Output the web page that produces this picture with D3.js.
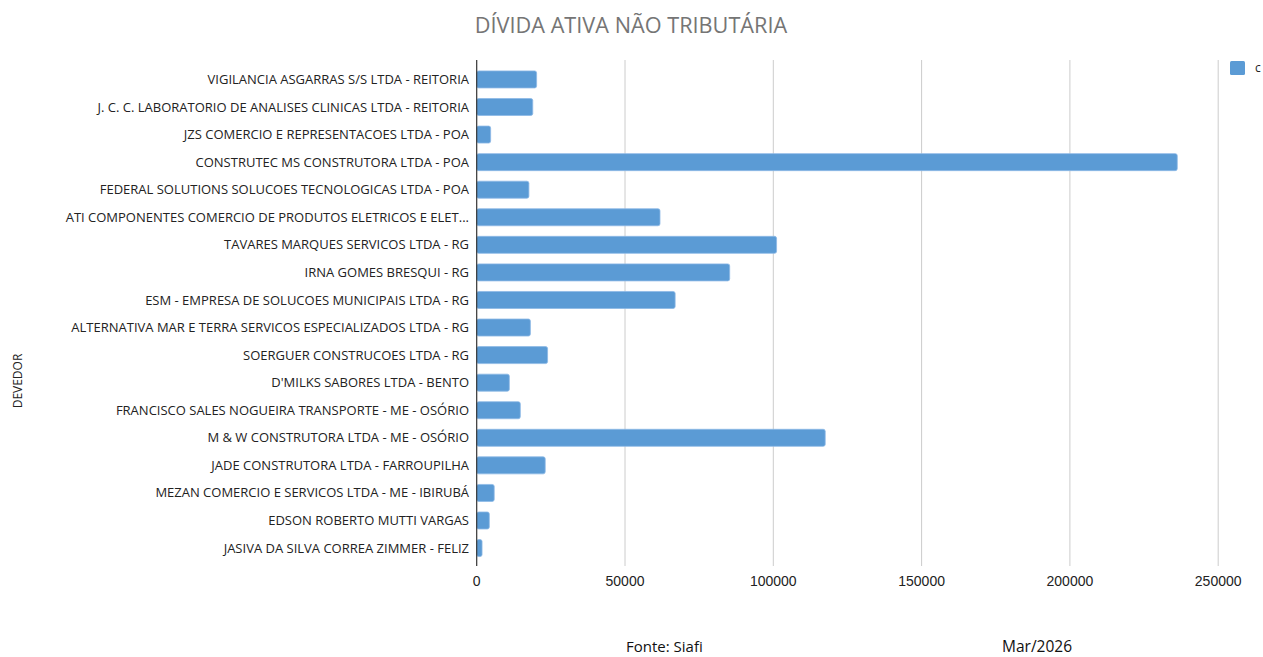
<!DOCTYPE html>
<html>
<head>
<meta charset="utf-8">
<script src="https://cdn.jsdelivr.net/npm/d3@7"></script>
<style>
  body { margin: 0; background: #fff; }
  svg { display: block; }
</style>
</head>
<body>
<svg id="chart"></svg>
<script>
var devedores = [
  "VIGILANCIA ASGARRAS S/S LTDA - REITORIA",
  "J. C. C. LABORATORIO DE ANALISES CLINICAS LTDA - REITORIA",
  "JZS COMERCIO E REPRESENTACOES LTDA - POA",
  "CONSTRUTEC MS CONSTRUTORA LTDA - POA",
  "FEDERAL SOLUTIONS SOLUCOES TECNOLOGICAS LTDA - POA",
  "ATI COMPONENTES COMERCIO DE PRODUTOS ELETRICOS E ELET...",
  "TAVARES MARQUES SERVICOS LTDA - RG",
  "IRNA GOMES BRESQUI - RG",
  "ESM - EMPRESA DE SOLUCOES MUNICIPAIS LTDA - RG",
  "ALTERNATIVA MAR E TERRA SERVICOS ESPECIALIZADOS LTDA - RG",
  "SOERGUER CONSTRUCOES LTDA - RG",
  "D'MILKS SABORES LTDA - BENTO",
  "FRANCISCO SALES NOGUEIRA TRANSPORTE - ME - OSÓRIO",
  "M & W CONSTRUTORA LTDA - ME - OSÓRIO",
  "JADE CONSTRUTORA LTDA - FARROUPILHA",
  "MEZAN COMERCIO E SERVICOS LTDA - ME - IBIRUBÁ",
  "EDSON ROBERTO MUTTI VARGAS",
  "JASIVA DA SILVA CORREA ZIMMER - FELIZ"
]

var valores = [20200, 18900, 4700, 236200, 17600, 61800, 101100, 85300, 66900,
               18100, 23900, 11000, 14700, 117500, 23100, 5900, 4250, 1800]

var ticks = [0, 50000, 100000, 150000, 200000, 250000]

var width = 1263, height = 657

var svg = d3.select("#chart")
            .attr("width", width)
            .attr("height", height)

var x = d3.scaleLinear()
    .domain([0, 250000])
    .range([476.7, 1218.2])

var y = d3.scaleBand()
    .domain(devedores)
    .range([65.7, 561.8])
    .paddingInner(0.383)
    .paddingOuter(0.19)

// gridlines
svg.selectAll(".grid")
   .data(ticks.slice(1)).enter()
   .append("line")
   .attr("x1", d => x(d))
   .attr("x2", d => x(d))
   .attr("y1", 60)
   .attr("y2", 566)
   .style("stroke", "#cccccc")
   .style("stroke-width", "1px")

// bars
svg.selectAll(".bar")
   .data(valores).enter()
   .append("rect")
   .attr("x", x(0))
   .attr("y", (d, i) => y(devedores[i]))
   .attr("width", d => x(d) - x(0))
   .attr("height", y.bandwidth())
   .attr("rx", 2)
   .attr("fill", "#5b9bd5")
   .style("stroke", "#8db9e6")
   .style("stroke-width", "0.8px")

// baseline axis
svg.append("line")
   .attr("x1", x(0)).attr("x2", x(0))
   .attr("y1", 60).attr("y2", 566)
   .style("stroke", "#333")
   .style("stroke-width", "1.2px")

// category labels
svg.selectAll(".lbl")
   .data(devedores).enter()
   .append("text")
   .attr("x", 469)
   .attr("y", d => y(d) + y.bandwidth() / 2)
   .attr("dy", "0.35em")
   .attr("text-anchor", "end")
   .style("font-family", "'Open Sans', sans-serif")
   .style("font-size", "13px")
   .style("fill", "#222")
   .text(d => d)

// tick labels
svg.selectAll(".tick")
   .data(ticks).enter()
   .append("text")
   .attr("x", d => x(d))
   .attr("y", 586)
   .attr("text-anchor", "middle")
   .style("font-family", "'Liberation Sans', Arial, sans-serif")
   .style("font-size", "14px")
   .style("fill", "#222")
   .text(d => d)

// title
svg.append("text")
   .attr("x", 631)
   .attr("y", 33)
   .attr("text-anchor", "middle")
   .style("font-family", "'Open Sans', sans-serif")
   .style("font-size", "21.7px")
   .style("fill", "#757575")
   .text("DÍVIDA ATIVA NÃO TRIBUTÁRIA")

// y axis title
svg.append("text")
   .attr("transform", "translate(22,381) rotate(-90)")
   .attr("text-anchor", "middle")
   .style("font-family", "'Open Sans', sans-serif")
   .style("font-size", "12px")
   .style("fill", "#222")
   .text("DEVEDOR")

// legend (cut off at the right edge)
svg.append("rect")
   .attr("x", 1230).attr("y", 61)
   .attr("width", 15).attr("height", 14)
   .attr("rx", 1.5)
   .attr("fill", "#5b9bd5")
svg.append("text")
   .attr("x", 1255)
   .attr("y", 72)
   .style("font-family", "'Open Sans', sans-serif")
   .style("font-size", "12px")
   .style("fill", "#222")
   .text("c")

// footer
svg.append("text")
   .attr("x", 626).attr("y", 652)
   .style("font-family", "'Open Sans', sans-serif")
   .style("font-size", "15px")
   .style("fill", "#111")
   .text("Fonte: Siafi")
svg.append("text")
   .attr("x", 1002).attr("y", 652)
   .style("font-family", "'Open Sans', sans-serif")
   .style("font-size", "15.5px")
   .style("fill", "#111")
   .text("Mar/2026")
</script>
</body>
</html>
